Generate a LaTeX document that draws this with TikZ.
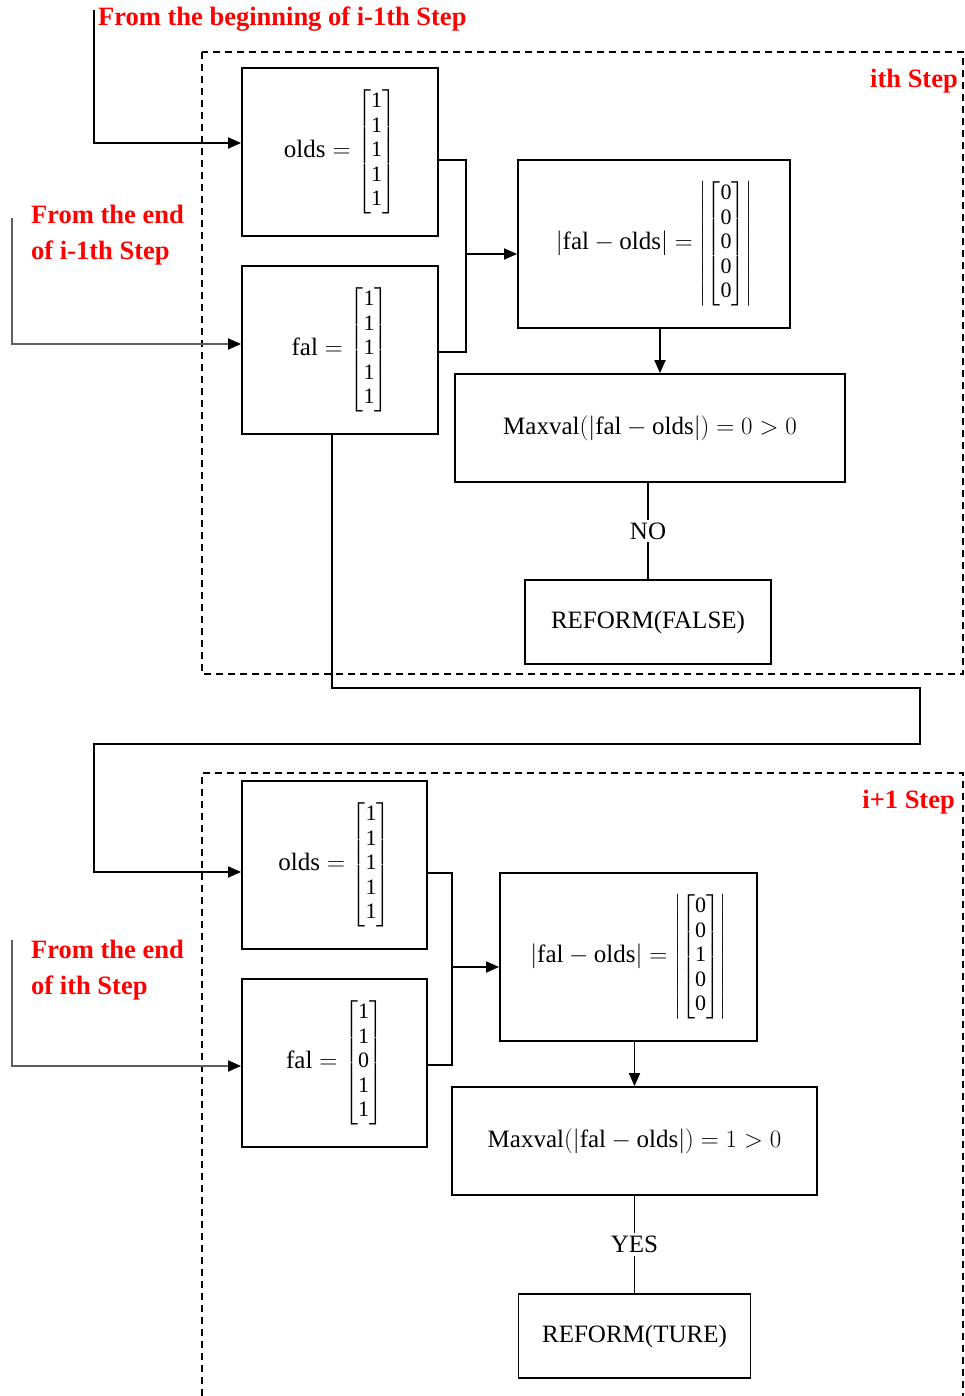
\documentclass[tikz,border=0pt]{standalone}
\usepackage{amsmath}
\usepackage{fontspec}
\setmainfont{Liberation Serif}
\usepackage{tikz}
\usetikzlibrary{arrows.meta, positioning, calc}
\definecolor{notered}{RGB}{255,0,0}
\definecolor{feedgray}{RGB}{95,95,95}
\newcommand{\boxfont}{\fontsize{25}{30}\selectfont}
\newcommand{\notefont}{\bfseries\fontsize{26.5}{36}\selectfont}
\newcommand{\vecbody}[5]{\setlength{\arraycolsep}{2.5pt}%
  \begin{bmatrix}\text{#1}\\\text{#2}\\\text{#3}\\\text{#4}\\\text{#5}\end{bmatrix}}
\newcommand{\vecfive}[5]{\mbox{\fontsize{22}{24.5}\selectfont
  $\vecbody{#1}{#2}{#3}{#4}{#5}$}}
\newcommand{\absvecfive}[5]{\mbox{\fontsize{22}{24.5}\selectfont
  $\left\lvert\vecbody{#1}{#2}{#3}{#4}{#5}\right\rvert$}}
\tikzset{
  block/.style 2 args={draw, line width=1.8pt, minimum width=#1,
                       minimum height=#2, inner sep=0pt, align=center,
                       font=\boxfont},
  stepframe/.style={draw, line width=1.4pt, dash pattern=on 7pt off 5pt},
  link/.style={line width=1.8pt},
  arrow/.style={-{Triangle[length=13pt,width=11pt,color=black]}, line width=1.8pt},
  note/.style={font=\notefont, text=notered, align=left, inner sep=0pt},
  decision/.style={fill=white, font=\boxfont, inner sep=3pt},
}

\begin{document}
\begin{tikzpicture}[x=1pt, y=-1pt]
  \useasboundingbox (0,0) rectangle (965,1396);

  % Step frames
  \draw[stepframe] (202,52) rectangle (963,674);
  \draw[stepframe] (202,1396) -- (202,773) -- (963,773) -- (963,1396);

  % Labels
  \node[note, anchor=west] (srcbegin) at (98,19) {From the beginning of i-1th Step};
  \node[note, anchor=west] (srcend1) at (31,235) {From the end\\of i-1th Step};
  \node[note, anchor=west] (srcend2) at (31,970) {From the end\\of ith Step};
  \node[note, anchor=east] (stepi) at (958,81) {ith Step};
  \node[note, anchor=east] (stepnext) at (955,802) {i+1 Step};

  % ith Step
  \node[block={196pt}{168pt}] (olds1) at (340,152)
    {$\text{olds} = \vecfive{1}{1}{1}{1}{1}$};
  \node[block={196pt}{168pt}] (fal1) at (340,350)
    {$\text{fal} = \vecfive{1}{1}{1}{1}{1}$};
  \node[block={272pt}{168pt}] (diff1) at (654,244)
    {$\lvert\text{fal} - \text{olds}\rvert = \absvecfive{0}{0}{0}{0}{0}$};
  \node[block={390pt}{108pt}] (max1) at (650,428)
    {$\text{Maxval}(\lvert\text{fal} - \text{olds}\rvert) = 0 > 0$};
  \node[block={246pt}{84pt}] (ref1) at (648,622) {REFORM(FALSE)};

  % i+1 Step
  \node[block={185pt}{168pt}] (olds2) at (334.5,865)
    {$\text{olds} = \vecfive{1}{1}{1}{1}{1}$};
  \node[block={185pt}{168pt}] (fal2) at (334.5,1063)
    {$\text{fal} = \vecfive{1}{1}{0}{1}{1}$};
  \node[block={257pt}{168pt}] (diff2) at (628.5,957)
    {$\lvert\text{fal} - \text{olds}\rvert = \absvecfive{0}{0}{1}{0}{0}$};
  \node[block={365pt}{108pt}] (max2) at (634.5,1141)
    {$\text{Maxval}(\lvert\text{fal} - \text{olds}\rvert) = 1 > 0$};
  \node[block={232pt}{84pt}] (ref2) at (634.5,1336) {REFORM(TURE)};

  % Inputs
  \coordinate (feedbegin) at (94,10);
  \coordinate (feedend1) at (12,218);
  \coordinate (feedend2) at (12,940);
  \draw[arrow] (feedbegin) |- ([yshift=9pt]olds1.west);
  \draw[arrow, draw=feedgray] (feedend1) |- ([yshift=6pt]fal1.west);
  \draw[arrow, draw=feedgray] (feedend2) |- ([yshift=-3pt]fal2.west);

  % ith Step flow
  \coordinate (join1) at (466,254);
  \draw[link] ([yshift=-8pt]olds1.east) -| (join1) |- ([yshift=-2pt]fal1.east);
  \draw[arrow] (join1) -- (join1 -| diff1.west);
  \draw[arrow] ([xshift=6pt]diff1.south) -- ([xshift=6pt]diff1.south |- max1.north);
  \draw[link] (max1.south -| ref1.north) -- node[decision] (nolabel) {NO} (ref1.north);

  % Carry over to i+1 Step
  \coordinate (loopright) at (920,688);
  \coordinate (loopleft) at (94,744);
  \draw[arrow] ([xshift=-8pt]fal1.south) |- (loopright) |- (loopleft)
    |- ([yshift=-7pt]olds2.west);

  % i+1 Step flow
  \coordinate (join2) at (452,967);
  \draw[link] ([yshift=-8pt]olds2.east) -| (join2) |- ([yshift=-2pt]fal2.east);
  \draw[arrow] (join2) -- (join2 -| diff2.west);
  \draw[arrow] (diff2.south -| max2.north) -- (max2.north);
  \draw[link] (max2.south) -- node[decision] (yeslabel) {YES} (ref2.north);
\end{tikzpicture}
\end{document}
